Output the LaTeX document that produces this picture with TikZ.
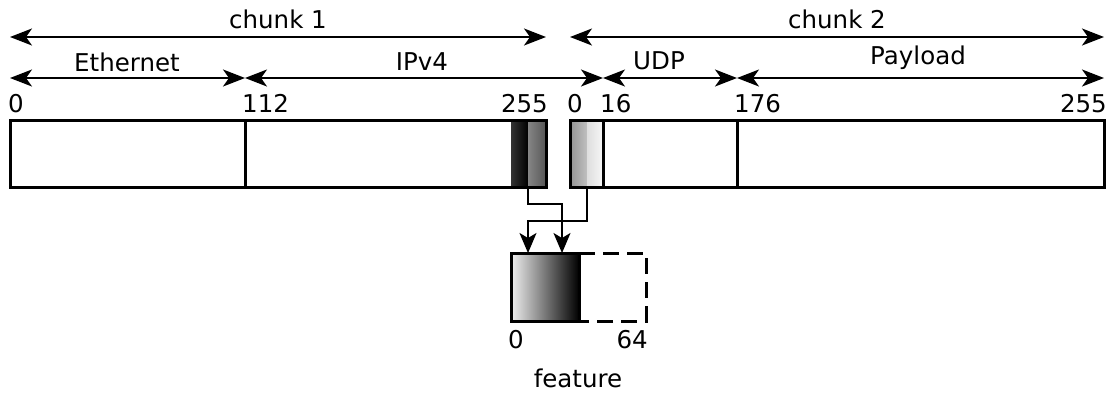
\documentclass[tikz,border=0pt]{standalone}
\usepackage{fontspec}
\setmainfont{DejaVu Sans}
\usetikzlibrary{arrows.meta}
\begin{document}
\begin{tikzpicture}[x=1pt,y=-1pt,
  font=\fontsize{24.5}{29}\selectfont,
  seg/.style={draw, line width=3pt, inner sep=0pt, outer sep=0pt, minimum height=67pt, anchor=north west},
  grad/.style={inner sep=0pt, outer sep=0pt, minimum height=67pt, anchor=north west, shading=axis, shading angle=90},
  dim/.style={line width=1.8pt, {Stealth[length=22pt,width=17pt,inset=6pt]}-{Stealth[length=22pt,width=17pt,inset=6pt]}},
  conn/.style={line width=1.8pt, -{Stealth[length=20pt,width=17pt,inset=5pt]}},
  lab/.style={inner sep=0pt}]
\useasboundingbox (0,0) rectangle (1108,392);

% gradient pieces
\node[grad, minimum width=17pt, left color=black!80, right color=black] (g1a) at (511,120) {};
\node[grad, minimum width=17pt, left color=black!48, right color=black!65] (g1b) at (528,120) {};
\node[grad, minimum width=17pt, left color=black!42, right color=black!25] (g2a) at (570,120) {};
\node[grad, minimum width=16pt, left color=black!13, right color=black!3] (g2b) at (587,120) {};
\node[grad, minimum width=68pt, minimum height=68pt, left color=black!6, right color=black] (fg) at (511,253) {};

% chunk boxes
\node[seg, minimum width=235pt] (eth) at (10,120) {};
\node[seg, minimum width=301pt] (ip) at (245,120) {};
\node[seg, minimum width=33pt] (u0) at (570,120) {};
\node[seg, minimum width=134pt] (udp) at (603,120) {};
\node[seg, minimum width=367pt] (pay) at (737,120) {};

% feature box
\node[seg, minimum width=68pt, minimum height=68pt] (feat) at (511,253) {};
\coordinate (fd1) at (579,253);
\coordinate (fd2) at (646,253);
\coordinate (fd3) at (646,321);
\coordinate (fd4) at (579,321);
\draw[line width=3pt, dash pattern=on 16pt off 8pt] (fd1) -- (fd2) -- (fd3) -- (fd4);

% dimension arrows
\coordinate (c1l) at (10,37);
\coordinate (c1r) at (546,37);
\coordinate (c2l) at (570,37);
\coordinate (c2r) at (1104,37);
\draw[dim] (c1l) -- (c1r);
\draw[dim] (c2l) -- (c2r);
\coordinate (r0) at (10,78);
\coordinate (r1) at (245,78);
\coordinate (r2) at (603,78);
\coordinate (r3) at (737,78);
\coordinate (r4) at (1104,78);
\draw[dim] (r0) -- (r1);
\draw[dim] (r1) -- (r2);
\draw[dim] (r2) -- (r3);
\draw[dim] (r3) -- (r4);

% labels
\node[lab] (lc1) at (278,19) {chunk 1};
\node[lab] (lc2) at (837,19) {chunk 2};
\node[lab] (leth) at (127,62) {Ethernet};
\node[lab] (lip) at (422,62) {IPv4};
\node[lab] (ludp) at (659,61) {UDP};
\node[lab] (lpay) at (918,58) {Payload};
\node[lab, anchor=base west] (n0) at (8,112) {0};
\node[lab, anchor=base west] (n112) at (242,112) {112};
\node[lab, anchor=base east] (n255a) at (548,112) {255};
\node[lab, anchor=base west] (n0b) at (567,112) {0};
\node[lab, anchor=base west] (n16) at (600,112) {16};
\node[lab, anchor=base east] (n255b) at (1107,112) {255};
\node[lab, anchor=base west] (n176) at (734,112) {176};
\node[lab, anchor=base west] (f0) at (508,348) {0};
\node[lab, anchor=base east] (f64) at (648,348) {64};
\node[lab] (lfeat) at (578,378) {feature};

% connectors
\coordinate (t1) at (528,253);
\coordinate (t2) at (562,253);
\draw[conn] (g1a.south east) -- (528,204) -| (t2);
\draw[conn] (g2a.south east) -- (587,221) -| (t1);
\end{tikzpicture}
\end{document}
